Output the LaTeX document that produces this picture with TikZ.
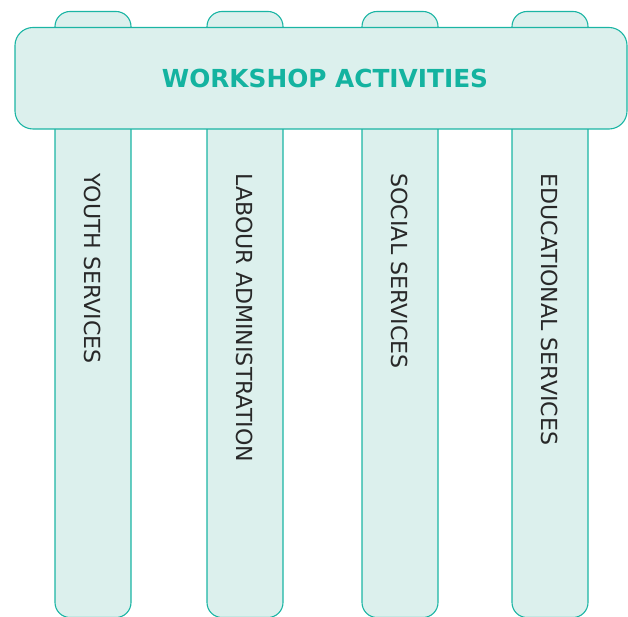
\documentclass[tikz,border=0pt]{standalone}
\usepackage{fontspec}
\setmainfont{DejaVu Sans}
\definecolor{tealline}{RGB}{27,181,164}
\definecolor{tealfill}{RGB}{220,240,237}
\definecolor{tealtext}{RGB}{20,179,160}
\definecolor{darktext}{RGB}{40,40,40}
\begin{document}
\begin{tikzpicture}[x=1pt,y=-1pt,line width=1.1pt,
	pillar/.style={draw=tealline,fill=tealfill,rounded corners=15pt,minimum width=76pt,minimum height=606pt,inner sep=0pt},
	header/.style={draw=tealline,fill=tealfill,rounded corners=18pt,minimum width=612pt,minimum height=101.5pt,inner sep=0pt},
	pillartext/.style={rotate=-90,anchor=west,inner sep=0pt,text=darktext,font=\fontsize{22.1}{24}\selectfont}]
	\useasboundingbox (0,0) rectangle (628,617);
	% pillars
	\foreach \px/\name/\txt in {93/youth/YOUTH SERVICES,245/labour/LABOUR ADMINISTRATION,400/social/SOCIAL SERVICES,550/edu/EDUCATIONAL SERVICES}{
		\node[pillar] (\name) at (\px,314.5) {};
		\node[pillartext] (\name-t) at (\px,173) {\txt};
	}
	% header on top
	\node[header] (head) at (321,78.25) {};
	\node[text=tealtext,font=\fontsize{24.8}{28}\selectfont\bfseries] (title) at (325,78) {WORKSHOP ACTIVITIES};
\end{tikzpicture}
\end{document}
